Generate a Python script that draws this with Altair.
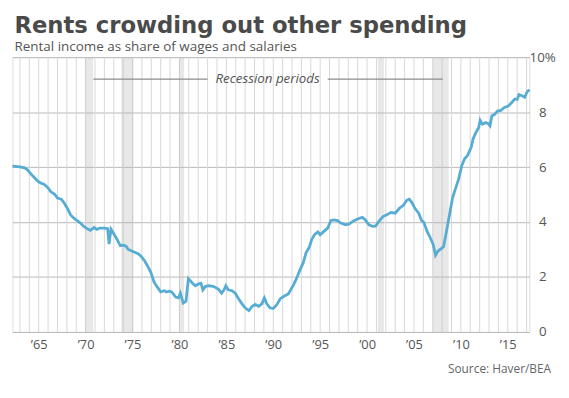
import altair as alt
import pandas as pd

# Rental income as share of wages and salaries (%)
years = [1962.2, 1963.0, 1963.5, 1963.8, 1964.3, 1964.9, 1965.2, 1965.6, 1965.95, 1966.3,
         1966.7, 1967.0, 1967.4, 1967.7, 1968.05, 1968.4, 1968.75, 1969.1, 1969.45, 1969.8,
         1970.15, 1970.5, 1970.9, 1971.2, 1971.5, 1972.0, 1972.35, 1972.5, 1972.7, 1973.0,
         1973.3, 1973.7, 1974.05, 1974.3, 1974.55, 1975.1, 1975.6, 1975.9, 1976.3, 1976.6,
         1976.95, 1977.3, 1977.65, 1978.0, 1978.4, 1978.6, 1978.95, 1979.2, 1979.6, 1979.9,
         1980.1, 1980.4, 1980.7, 1980.95, 1981.4, 1981.7, 1982.0, 1982.3, 1982.5, 1982.75,
         1983.1, 1983.6, 1984.15, 1984.5, 1984.75, 1984.95, 1985.2, 1985.6, 1985.95, 1986.3,
         1986.65, 1987.0, 1987.4, 1987.75, 1988.1, 1988.45, 1988.8, 1989.05, 1989.3, 1989.65,
         1990.0, 1990.4, 1990.75, 1991.1, 1991.6, 1991.9, 1992.2, 1992.45, 1992.8, 1993.2,
         1993.5, 1993.85, 1994.1, 1994.4, 1994.75, 1995.0, 1995.4, 1995.8, 1996.15, 1996.5,
         1996.85, 1997.2, 1997.7, 1998.1, 1998.6, 1999.05, 1999.5, 1999.8, 2000.2, 2000.6,
         2000.9, 2001.25, 2001.7, 2002.1, 2002.55, 2003.0, 2003.45, 2003.9, 2004.25, 2004.5,
         2004.8, 2005.1, 2005.5, 2005.8, 2006.05, 2006.4, 2006.75, 2007.05, 2007.3, 2007.55,
         2007.9, 2008.15, 2008.4, 2008.75, 2009.1, 2009.4, 2009.75, 2010.1, 2010.4, 2010.7,
         2011.1, 2011.3, 2011.6, 2011.9, 2012.05, 2012.3, 2012.65, 2012.9, 2013.1, 2013.3,
         2013.6, 2013.9, 2014.25, 2014.6, 2015.05, 2015.4, 2015.75, 2016.0, 2016.2, 2016.5,
         2016.8, 2017.05, 2017.3]
share = [6.03, 6.01, 5.97, 5.90, 5.70, 5.49, 5.42, 5.37, 5.26, 5.10,
         5.01, 4.87, 4.83, 4.70, 4.50, 4.26, 4.14, 4.05, 3.96, 3.84,
         3.76, 3.70, 3.80, 3.73, 3.78, 3.78, 3.76, 3.20, 3.74, 3.57,
         3.40, 3.14, 3.16, 3.12, 3.00, 2.92, 2.85, 2.76, 2.58, 2.40,
         2.17, 1.81, 1.63, 1.46, 1.50, 1.45, 1.48, 1.45, 1.27, 1.24,
         1.41, 1.05, 1.12, 1.94, 1.77, 1.68, 1.74, 1.77, 1.53, 1.65,
         1.68, 1.66, 1.56, 1.41, 1.53, 1.68, 1.53, 1.50, 1.41, 1.21,
         1.03, 0.88, 0.78, 0.93, 1.00, 0.93, 1.03, 1.24, 1.03, 0.88,
         0.85, 1.00, 1.21, 1.29, 1.38, 1.56, 1.74, 1.92, 2.22, 2.52,
         2.88, 3.09, 3.36, 3.54, 3.64, 3.54, 3.66, 3.78, 4.06, 4.08,
         4.05, 3.96, 3.90, 3.93, 4.05, 4.12, 4.17, 4.08, 3.90, 3.84,
         3.85, 4.02, 4.20, 4.26, 4.35, 4.32, 4.50, 4.62, 4.80, 4.83,
         4.70, 4.50, 4.32, 4.06, 3.99, 3.66, 3.42, 3.18, 2.79, 2.94,
         3.03, 3.10, 3.54, 4.20, 4.86, 5.19, 5.55, 6.06, 6.30, 6.42,
         6.72, 7.02, 7.26, 7.44, 7.70, 7.56, 7.62, 7.58, 7.50, 7.86,
         7.92, 8.04, 8.06, 8.16, 8.22, 8.34, 8.48, 8.46, 8.64, 8.60,
         8.54, 8.73, 8.82]

# Recession bands as drawn
rec_start = [1969.95, 1973.8, 1979.95, 2001.15, 2007.0]
rec_end = [1970.8, 1975.1, 1980.5, 2001.8, 2008.7]

# "Recession periods" annotation
ann_label = ["Recession periods"]
ann_x = [1989.4]
ann_y = [9.2]
ann_seg_start = [1970.82, 1995.8]
ann_seg_end = [1983.0, 2008.08]

grid_years = list(range(1963, 2018))
label_years = list(range(1965, 2020, 5))
y_ticks = [0, 2, 4, 6, 8, 10]

FONT = "Open Sans"
TITLE_FONT = "DejaVu Sans"
W, H = 523, 278

df = pd.DataFrame({"year": years, "share": share})
bands = pd.DataFrame({"start": rec_start, "end": rec_end})
segs = pd.DataFrame({"s": ann_seg_start, "e": ann_seg_end, "y": [ann_y[0]] * 2})
ann = pd.DataFrame({"x": ann_x, "y": ann_y, "t": ann_label})
grid = pd.DataFrame({"g": grid_years})

xscale = alt.Scale(domain=[1962.2, 2017.3], nice=False, zero=False)
yscale = alt.Scale(domain=[0, 10], nice=False)

xaxis = alt.Axis(
    values=label_years,
    labelExpr="'\u2019' + substring(toString(datum.value), 2)",
    grid=False, ticks=False, domain=False,
    labelFont=FONT, labelFontSize=13, labelColor="#555555", labelPadding=7,
    labelOverlap=False, labelFlush=False, title=None,
)
yaxis = alt.Axis(
    orient="right", values=y_ticks,
    labelExpr="datum.value == 10 ? '10%' : datum.label",
    grid=True, gridColor="#b8b8b8", gridWidth=1, ticks=False, domain=False,
    labelFont=FONT, labelFontSize=13.5, labelColor="#555555", labelAlign="center",
    labelPadding=13, labelBaseline="middle", title=None,
)

grid_layer = alt.Chart(grid).mark_rule(color="#d8d8d8", strokeWidth=1).encode(
    x=alt.X("g:Q", scale=xscale, axis=xaxis),
    y=alt.datum(0, scale=yscale, axis=yaxis),
    y2=alt.datum(10),
)

band_layer = alt.Chart(bands).mark_rect(color="#b4b4b4", opacity=0.3).encode(
    x=alt.X("start:Q", scale=xscale, axis=xaxis),
    x2="end:Q",
    y=alt.datum(0, scale=yscale, axis=yaxis),
    y2=alt.datum(10),
)

seg_layer = alt.Chart(segs).mark_rule(color="#8c8c8c", strokeWidth=1.2).encode(
    x=alt.X("s:Q", scale=xscale, axis=xaxis), x2="e:Q",
    y=alt.Y("y:Q", scale=yscale, axis=yaxis)
)

ann_layer = alt.Chart(ann).mark_text(
    font=FONT, fontSize=13.5, fontStyle="italic", color="#555555", baseline="middle"
).encode(x=alt.X("x:Q", scale=xscale, axis=xaxis),
         y=alt.Y("y:Q", scale=yscale, axis=yaxis), text="t:N")

line_layer = alt.Chart(df).mark_line(color="#56acd2", strokeWidth=2.8).encode(
    x=alt.X("year:Q", scale=xscale, axis=xaxis),
    y=alt.Y("share:Q", scale=yscale, axis=yaxis)
)

src = pd.DataFrame({"t": ["Source: Haver/BEA"]})
src_layer = alt.Chart(src).mark_text(
    font=FONT, fontSize=12, color="#666666", align="right", baseline="alphabetic"
).encode(x=alt.value(W + 22), y=alt.value(H + 41.5), text="t:N")

chart = alt.layer(grid_layer, band_layer, seg_layer, ann_layer, line_layer, src_layer).properties(
    width=W, height=H,
    title=alt.Title(
        "Rents crowding out other spending",
        subtitle="Rental income as share of wages and salaries",
        anchor="start", frame="group", font=TITLE_FONT, fontSize=23, fontWeight="bold",
        color="#4a4a4a",
        subtitleFont=FONT, subtitleFontSize=13.6, subtitleColor="#555555",
        offset=-3, subtitlePadding=1.5, dx=2,
    ),
    autosize=alt.AutoSizeParams(type="none"),
    padding={"left": 4.5, "top": 47.5, "right": 32, "bottom": 55},
).configure_view(stroke="#9a9a9a", strokeWidth=1).configure(background="white")

chart.save("out.html", embed_options={"renderer": "svg", "actions": False})
